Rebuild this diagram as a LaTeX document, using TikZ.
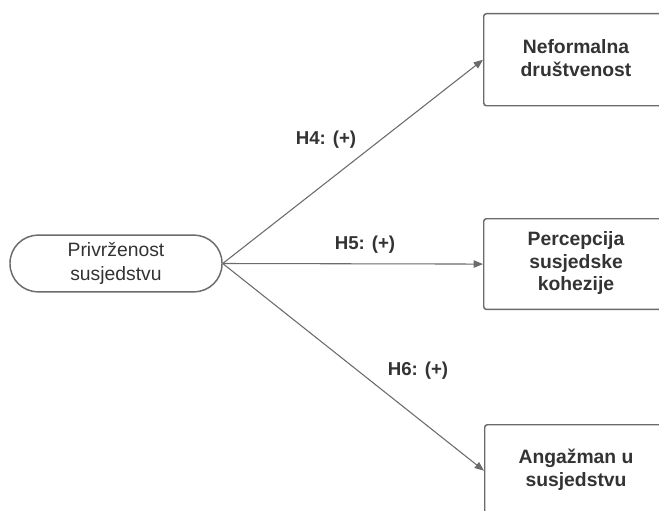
\documentclass[tikz,border=0pt]{standalone}
\usepackage{fontspec}
\setmainfont{Liberation Sans}
\usetikzlibrary{arrows.meta}
\definecolor{linec}{HTML}{6B6B6B}
\definecolor{textc}{HTML}{333333}
\tikzset{
  box/.style={draw=linec, line width=1.1pt, rounded corners=2pt, minimum width=139.5pt, minimum height=69pt, anchor=north west, inner sep=0pt},
  boxtext/.style={text=textc, font=\fontsize{14.5pt}{17pt}\selectfont\bfseries, align=center},
  src/.style={draw=linec, line width=1.1pt, rounded corners=21pt, minimum width=159pt, minimum height=42.5pt, align=center, font=\fontsize{14.5pt}{18pt}\selectfont, text=textc, inner sep=0pt},
  conn/.style={draw=linec, line width=0.8pt, -{Triangle[length=7pt,width=5.5pt]}},
  lab/.style={font=\fontsize{14pt}{16pt}\selectfont\bfseries, text=textc}
}
\begin{document}
\begin{tikzpicture}[x=0.75pt,y=-0.75pt]
\clip (0,0) rectangle (659,510);
\fill[white] (0,0) rectangle (659,510);
\node[src] (p) at (116,263.5) {Privrženost\\susjedstvu};
\node[box] (n) at (483,13) {};
\node[boxtext] (nt) at (576,58) {Neformalna\\društvenost};
\node[box, minimum height=68pt] (k) at (483,218) {};
\node[boxtext] (kt) at (576,263) {Percepcija\\susjedske\\kohezije};
\node[box, minimum height=69pt] (a) at (484,424) {};
\node[boxtext] (at) at (576,470) {Angažman u\\susjedstvu};
\draw[conn] (p.east) -- (n.west);
\draw[conn] (p.east) -- (k.west);
\draw[conn] (p.east) -- (a.west);
\node[lab] (h4) at (326,140) {H4: (+)};
\node[lab] (h5) at (365,245) {H5: (+)};
\node[lab] (h6) at (418,371) {H6: (+)};
\end{tikzpicture}
\end{document}
